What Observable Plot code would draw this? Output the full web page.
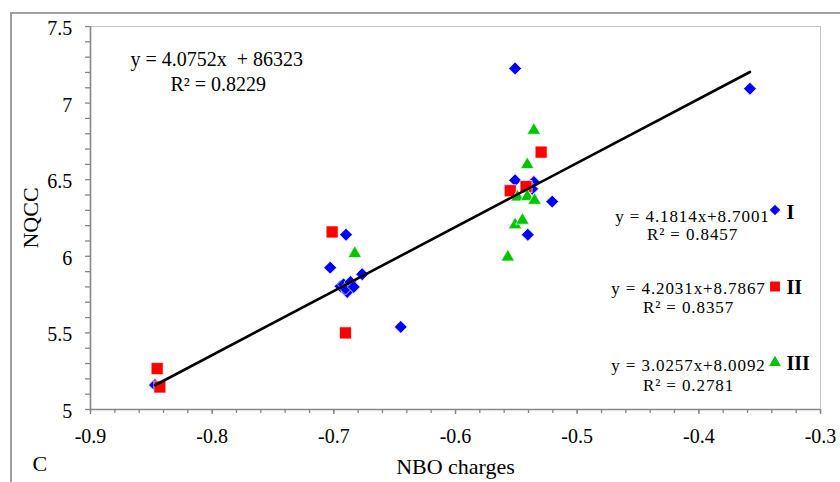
<!DOCTYPE html>
<html>
<head>
<meta charset="utf-8">
<script src="https://cdn.jsdelivr.net/npm/d3@7"></script>
<script src="https://cdn.jsdelivr.net/npm/@observablehq/plot@0.6"></script>
<style>
html, body { margin: 0; padding: 0; background: #fff; overflow: hidden; }
#wrap { position: relative; width: 840px; height: 482px; overflow: hidden; background: #fff; }
#border { position: absolute; left: 10px; top: 12px; width: 900px; height: 600px; border: 2px solid #a0a0a0; }
#chart { position: absolute; left: 0; top: 0; }
</style>
</head>
<body>
<div id="wrap"><div id="border"></div><div id="chart"></div></div>
<script>
// ---- Data ----
// Series I (blue diamonds)
const xI = [-0.847, -0.703, -0.690, -0.6945, -0.692, -0.689, -0.6904, -0.6863, -0.6836, -0.6767, -0.645, -0.551, -0.551, -0.5356, -0.537, -0.5205, -0.5406, -0.358];
const yI = [5.160, 5.926, 6.141, 5.804, 5.817, 5.767, 5.789, 5.832, 5.800, 5.883, 5.539, 7.226, 6.496, 6.485, 6.440, 6.357, 6.141, 7.094];
// Series II (red squares)
const xII = [-0.8452, -0.843, -0.7014, -0.6904, -0.555, -0.542, -0.5296];
const yII = [5.267, 5.147, 6.159, 5.500, 6.428, 6.455, 6.680];
// Series III (green triangles)
const xIII = [-0.6828, -0.557, -0.551, -0.545, -0.549, -0.541, -0.535, -0.541, -0.5356];
const yIII = [6.018, 5.995, 6.205, 6.235, 6.387, 6.390, 6.365, 6.598, 6.822];

// Trendline drawn in the chart (series I fit)
const trendSlope = 4.1814;
const trendIntercept = 8.7001;

// Axis ticks
const xTicks = [-0.9, -0.8, -0.7, -0.6, -0.5, -0.4, -0.3];
const yTicks = [5, 5.5, 6, 6.5, 7, 7.5];

// Texts
const xLabel = "NBO charges";
const yLabel = "NQCC";
const panelLabel = "C";
const mainEq = "y = 4.0752x \u00a0+ 86323";
const mainR2 = "R\u00b2 = 0.8229";
const legendNames = ["I", "II", "III"];
const legendEqs = ["y = 4.1814x+8.7001", "y = 4.2031x+8.7867", "y = 3.0257x+8.0092"];
const legendR2s = ["R\u00b2 = 0.8457", "R\u00b2 = 0.8357", "R\u00b2 = 0.2781"];

// ---- Build ----
const zip = (xs, ys) => xs.map((x, i) => ({x, y: ys[i]}));
const dI = zip(xI, yI), dII = zip(xII, yII), dIII = zip(xIII, yIII);
const trend = d3.extent(xI).map(x => ({x, y: trendSlope * x + trendIntercept}));

const W = 840, H = 482, ml = 90, mr = 20, mt = 26, mb = 73;
const serif = "'Liberation Serif', 'Times New Roman', Times, serif";
const BLUE = "#0000ff", RED = "#ff0000", GREEN = "#00c400";

const xMinor = d3.range(-45, -14).map(i => i / 50);
const yMinor = d3.range(50, 76).map(i => i / 10);

// text placed relative to frame top-left, (px, baseline) in page pixels
function label(s, px, baseline, fs, opts = {}) {
  return Plot.text([s], {
    frameAnchor: "top-left",
    dx: px - ml,
    dy: baseline - 0.32 * fs - mt,
    lineAnchor: "middle",
    fontSize: fs,
    fontFamily: serif,
    fill: "#000",
    ...opts
  });
}
function sym(px, py, symbol, fill, r) {
  return Plot.dot([0], {frameAnchor: "top-left", dx: px - ml, dy: py - mt, symbol, fill, r, stroke: "none"});
}

const legendY = [[221, 239, 692, 209.5, 218], [293, 312, 688, 286, 293], [370, 390, 688, 362, 369]];
const legendSyms = [["diamond2", BLUE, 4.8], ["square", RED, 5.6], ["triangle", GREEN, 4.4]];

const marks = [
  // frame (top/right light) and axis lines
  Plot.ruleY([7.5], {stroke: "#c4c4c4", strokeWidth: 1}),
  Plot.ruleX([-0.3], {stroke: "#c4c4c4", strokeWidth: 1}),
  // ticks
  Plot.axisY(yMinor, {tickSize: 5, tickFormat: () => "", stroke: "#868686", strokeWidth: 1.3, label: null}),
  Plot.axisX(xMinor, {tickSize: 4, tickFormat: () => "", stroke: "#868686", strokeWidth: 1.3, label: null}),
  Plot.axisX(xTicks, {tickSize: 5, tickPadding: 14, tickFormat: d => String(d), stroke: "#868686", strokeWidth: 1.3, fontSize: 20, fontFamily: serif, label: null}),
  Plot.axisY(yTicks, {tickSize: 0, tickPadding: 18.3, dy: 2, tickFormat: d => String(d), fontSize: 20, fontFamily: serif, label: null}),
  Plot.ruleX([-0.9], {stroke: "#868686", strokeWidth: 1.6}),
  Plot.ruleY([5], {stroke: "#868686", strokeWidth: 1.6}),
  // data
  Plot.dot(dI, {x: "x", y: "y", symbol: "diamond2", r: 5.8, fill: BLUE, stroke: "#fff", strokeWidth: 0.7}),
  Plot.dot(dII, {x: "x", y: "y", symbol: "square", r: 6.8, fill: RED, stroke: "#fff", strokeWidth: 0.7}),
  Plot.dot(dIII, {x: "x", y: "y", symbol: "triangle", r: 5, fill: GREEN, stroke: "#fff", strokeWidth: 0.7}),
  Plot.line(trend, {x: "x", y: "y", stroke: "#000", strokeWidth: 2.6}),
  // titles
  Plot.text([xLabel], {frameAnchor: "bottom", dy: 473 - 0.32 * 22 - (H - mb), textAnchor: "middle", lineAnchor: "middle", fontSize: 22, fontFamily: serif, fill: "#000"}),
  Plot.text([yLabel], {frameAnchor: "left", dx: 30 - ml, rotate: -90, textAnchor: "middle", lineAnchor: "middle", fontSize: 22, fontFamily: serif, fill: "#000"}),
  label(panelLabel, 32, 470, 22, {textAnchor: "start"}),
  label(mainEq, 130, 65.7, 20, {textAnchor: "start"}),
  label(mainR2, 170, 90.7, 20, {textAnchor: "start"}),
];
legendNames.forEach((n, i) => {
  const [bEq, bR2, cx, sy, bN] = legendY[i];
  marks.push(label(legendEqs[i], cx, bEq, 17, {textAnchor: "middle"}));
  marks.push(label(legendR2s[i], cx, bR2, 17, {textAnchor: "middle"}));
  const [s, f, r] = legendSyms[i];
  marks.push(sym(774.5, sy, s, f, r));
  marks.push(label(n, 786, bN, 20, {textAnchor: "start", fontWeight: "bold"}));
});

const chart = Plot.plot({
  width: W, height: H,
  marginLeft: ml, marginRight: mr, marginTop: mt, marginBottom: mb,
  style: {fontFamily: serif, fontSize: "20px", color: "#000", background: "transparent", overflow: "visible"},
  x: {domain: [-0.9, -0.3]},
  y: {domain: [5, 7.5]},
  marks
});
document.getElementById("chart").appendChild(chart);

// widen the tracking of the trendline labels, as in the reference
d3.select(chart).selectAll("text")
  .filter(function () { const t = this.textContent; return legendEqs.includes(t) || legendR2s.includes(t); })
  .attr("letter-spacing", "0.9px");
</script>
</body>
</html>
